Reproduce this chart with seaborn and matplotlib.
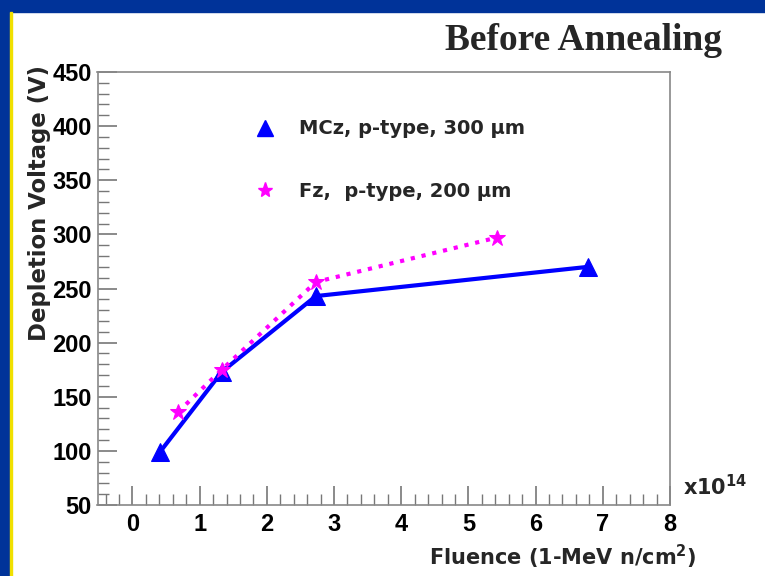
import matplotlib
matplotlib.use('Agg')
import matplotlib.pyplot as plt
import seaborn as sns
import pandas as pd
from matplotlib.lines import Line2D
from matplotlib.patches import Rectangle
from matplotlib.ticker import MultipleLocator

# data (fluence in units of 1e14)
mcz_fluence = [0.41, 1.33, 2.73, 6.78]
mcz_voltage = [99, 173, 243, 270]
fz_fluence = [0.68, 1.33, 2.73, 5.42]
fz_voltage = [136, 175, 256, 297]
labels = ['MCz, p-type, 300 \u03bcm', 'Fz,  p-type, 200 \u03bcm']

mcz = pd.DataFrame({'fluence': mcz_fluence, 'voltage': mcz_voltage})
fz = pd.DataFrame({'fluence': fz_fluence, 'voltage': fz_voltage})

sns.set_style('ticks')
plt.rcParams['font.family'] = ['Liberation Sans', 'DejaVu Sans']
plt.rcParams['mathtext.fontset'] = 'dejavusans'

wide = ['DejaVu Sans']

fig = plt.figure(figsize=(7.65, 5.76), dpi=100)
fig.patch.set_facecolor('white')

# slide decoration
fig.patches.append(Rectangle((0, 1 - 12 / 576), 1, 12 / 576, transform=fig.transFigure,
                             color='#003399', zorder=0))
fig.patches.append(Rectangle((0, 0), 10 / 765, 1, transform=fig.transFigure,
                             color='#003399', zorder=0))
fig.patches.append(Rectangle((10 / 765, 0), 2 / 765, 1 - 12 / 576, transform=fig.transFigure,
                             color='#f0e000', zorder=0))

ax = fig.add_axes([97.5 / 765, 71 / 576, 572.5 / 765, 433 / 576])

sns.lineplot(data=mcz, x='fluence', y='voltage', ax=ax, color='#0000ff', linewidth=3,
             marker='^', markersize=13, markeredgecolor='#0000ff', sort=False)
sns.lineplot(data=fz, x='fluence', y='voltage', ax=ax, color='#ff00ff', linewidth=3,
             linestyle=':', marker='*', markersize=12, markeredgecolor='#ff00ff', sort=False)

ax.set_xlim(-0.52, 8)
ax.set_ylim(50, 450)
ax.xaxis.set_major_locator(MultipleLocator(1))
ax.xaxis.set_minor_locator(MultipleLocator(0.2))
ax.yaxis.set_major_locator(MultipleLocator(50))
ax.yaxis.set_minor_locator(MultipleLocator(10))
ax.tick_params(which='both', direction='in', colors='#777777', top=False, right=False)
ax.tick_params(which='major', length=14, width=1.2)
ax.tick_params(which='minor', length=8, width=1.0)
ax.tick_params(axis='both', labelcolor='black', labelsize=17)
ax.tick_params(axis='x', pad=6)
ax.tick_params(axis='y', pad=4)
for t in ax.get_xticklabels() + ax.get_yticklabels():
    t.set_fontweight('bold')
for s in ax.spines.values():
    s.set_color('#888888')
    s.set_linewidth(1.2)
ax.set_xlabel('')
ax.set_ylabel('')

handles = [Line2D([], [], color='#0000ff', marker='^', markersize=11, linestyle='none'),
           Line2D([], [], color='#ff00ff', marker='*', markersize=11, linestyle='none')]
ax.legend(handles, labels, loc='upper left', bbox_to_anchor=(0.259, 0.913), frameon=False,
          borderpad=0, prop={'weight': 'bold', 'size': 14, 'family': wide},
          labelspacing=2.25, handlelength=1.0, handletextpad=1.25)

fig.text(40 / 765, 1 - 65 / 576, 'Depletion Voltage (V)', rotation=90, ha='center', va='top',
         fontsize=16.4, fontweight='bold', family=wide)
fig.text(697 / 765, 1 - 557 / 576, 'Fluence (1-MeV n/cm$^{\\mathbf{2}}$)', ha='right',
         va='center', fontsize=15, fontweight='bold', family=wide)
fig.text(683 / 765, 1 - 487 / 576, 'x10$^{\\mathbf{14}}$', ha='left', va='center',
         fontsize=15, fontweight='bold', family=wide)
fig.text(722 / 765, 1 - 41 / 576, 'Before Annealing', ha='right', va='center',
         fontsize=27, fontweight='bold', family=['Liberation Serif', 'DejaVu Serif'])

fig.savefig('out.png', dpi=100)
